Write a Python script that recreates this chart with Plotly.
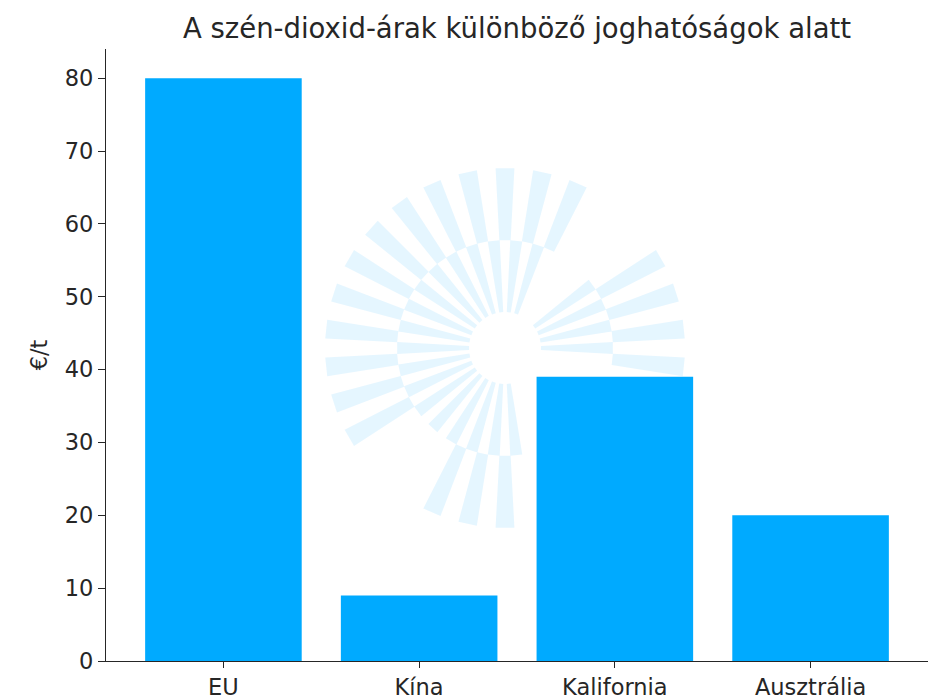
import math
import plotly.graph_objects as go

# ---- data ----
categories = ["EU", "Kína", "Kalifornia", "Ausztrália"]
prices = [80, 9, 39, 20]
y_ticks = [0, 10, 20, 30, 40, 50, 60, 70, 80]
title_text = "A szén-dioxid-árak különböző joghatóságok alatt"
y_label = "€/t"

# page has an 8px body margin, so the figure is drawn from (8, 8)
W, H = 930, 692
L, R, T, B = 98, 10, 41, 39
PW, PH = W - L - R, H - T - B

FONT = "DejaVu Sans"
BAR = "#00aaff"
INK = "#262626"

# ---- decorative watermark (radial checker) in paper coords ----
cx, cy = 497, 340
def to_paper(px, py):
    return (px - L) / PW, (H - B - py) / PH

def wedge(r0, r1, a_center, half):
    seq = [(r1, a_center - half), (r1, a_center + half),
           (r0, a_center + half), (r0, a_center - half)]
    coords = []
    for r, a in seq:
        ar = math.radians(a)
        coords.append(to_paper(cx + r * math.cos(ar), cy - r * math.sin(ar)))
    d = "M {:.5f},{:.5f} ".format(*coords[0])
    d += " ".join("L {:.5f},{:.5f}".format(*c) for c in coords[1:]) + " Z"
    return d

shapes = []
wm = "rgba(0,170,255,0.10)"
for k in range(30):
    a_out = (90 + 12 * k) % 360
    a_in = (96 + 12 * k) % 360
    skip_out = (40 < a_out < 62) or (215 < a_out < 240) or (280 < a_out < 350)
    skip_in = (40 < a_in < 64) or (280 < a_in < 350)
    if not skip_out:
        shapes.append(dict(type="path", xref="paper", yref="paper", layer="below",
                           path=wedge(108, 180, a_out, 3.0), fillcolor=wm,
                           line=dict(width=0)))
    if not skip_in:
        shapes.append(dict(type="path", xref="paper", yref="paper", layer="below",
                           path=wedge(36, 108, a_in, 3.2), fillcolor=wm,
                           line=dict(width=0)))

fig = go.Figure(go.Bar(x=categories, y=prices, marker=dict(color=BAR, line=dict(width=0)),
                       width=0.8))

fig.update_layout(
    width=W, height=H,
    margin=dict(l=L, r=R, t=T, b=B, autoexpand=False),
    paper_bgcolor="white", plot_bgcolor="rgba(0,0,0,0)",
    font=dict(family=FONT, color=INK, size=22),
    title=dict(text=title_text, x=(L + PW / 2) / W, xanchor="center",
               y=1 - 20 / H, yanchor="middle", yref="container",
               font=dict(family=FONT, size=27.5, color=INK)),
    showlegend=False,
    shapes=shapes,
)
fig.update_xaxes(range=[-0.6, 3.6], showline=True, linecolor=INK, linewidth=1.3,
                 ticks="outside", ticklen=6, tickwidth=1.2, tickcolor=INK,
                 showgrid=False, zeroline=False, automargin=False,
                 tickfont=dict(size=22.5, family=FONT))
fig.update_yaxes(range=[0, 84], tickvals=y_ticks, showline=True, linecolor=INK,
                 linewidth=1.3, ticks="outside", ticklen=7, tickwidth=1.2,
                 tickcolor=INK, showgrid=False, zeroline=False, automargin=False,
                 tickfont=dict(size=22.5, family=FONT),
                 title=dict(text=y_label, standoff=10, font=dict(size=22.5, family=FONT)))

fig.write_html("out.html")
